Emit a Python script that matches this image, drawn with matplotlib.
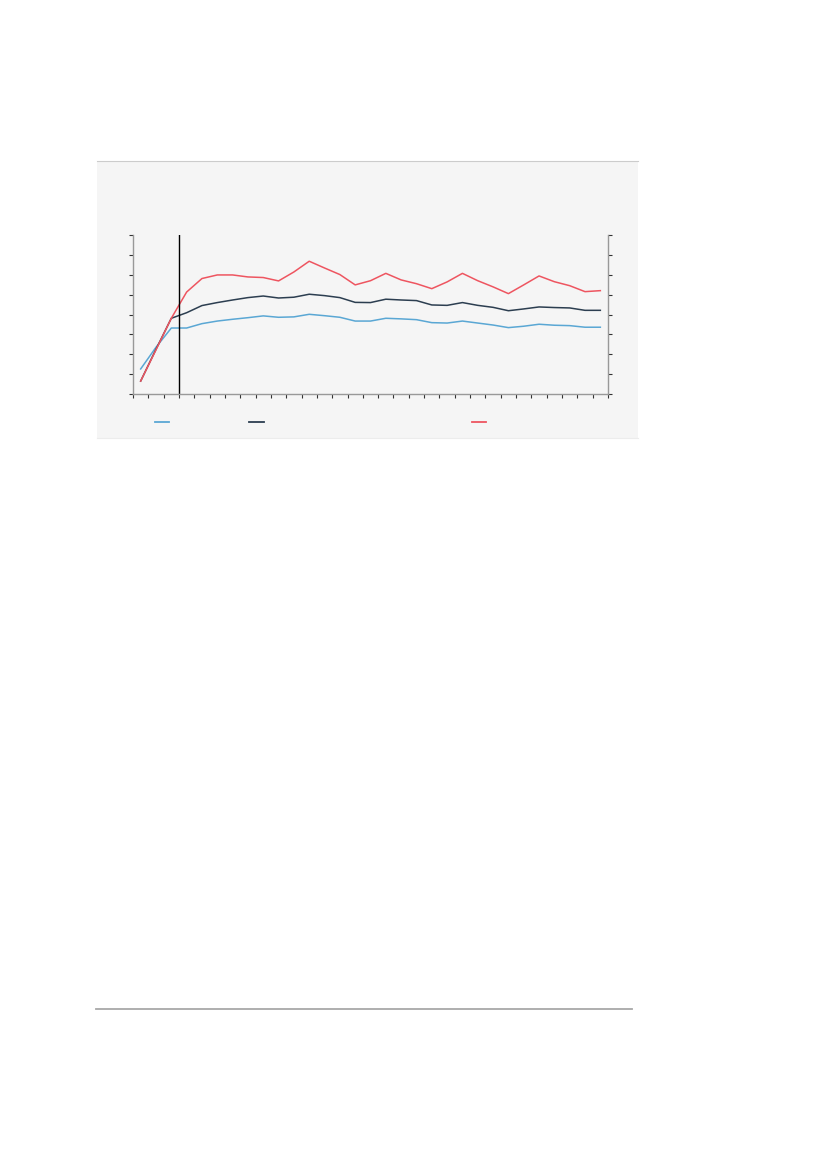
import matplotlib
matplotlib.use('Agg')
import matplotlib.pyplot as plt
from matplotlib.lines import Line2D

# 31 periods, values (axis units 0..8)
periods = list(range(31))
blue_vals = [1.26, 2.35, 3.32, 3.32, 3.54, 3.67, 3.76, 3.84, 3.93, 3.86, 3.88,
             4.01, 3.94, 3.86, 3.67, 3.67, 3.81, 3.78, 3.74, 3.59, 3.57, 3.67,
             3.57, 3.47, 3.34, 3.41, 3.51, 3.46, 3.44, 3.36, 3.36]
dark_vals = [0.65, 2.25, 3.81, 4.09, 4.45, 4.60, 4.73, 4.85, 4.93, 4.83, 4.87,
             5.02, 4.95, 4.85, 4.61, 4.60, 4.77, 4.73, 4.70, 4.48, 4.46, 4.60,
             4.46, 4.36, 4.19, 4.28, 4.38, 4.35, 4.33, 4.21, 4.21]
red_vals = [0.65, 2.22, 3.81, 5.13, 5.81, 5.99, 5.99, 5.89, 5.86, 5.69, 6.14,
            6.68, 6.34, 6.01, 5.49, 5.70, 6.07, 5.74, 5.55, 5.30, 5.64, 6.07,
            5.70, 5.39, 5.05, 5.49, 5.94, 5.65, 5.45, 5.15, 5.20]

c_blue = '#5aa7d4'
c_dark = '#2c3e50'
c_red = '#ee5560'
bg = '#f5f5f5'

fig = plt.figure(figsize=(8.27, 11.70), dpi=100)

# grey panel behind the chart
panel = fig.add_axes([97 / 827, 1 - 438 / 1170, 541 / 827, 277 / 1170])
panel.set_facecolor(bg)
panel.set_xticks([])
panel.set_yticks([])
for s in panel.spines.values():
    s.set_visible(False)
panel.spines['top'].set_visible(True)
panel.spines['top'].set_color('#cccccc')
panel.spines['bottom'].set_visible(True)
panel.spines['bottom'].set_color('#ececec')

ax = fig.add_axes([133 / 827, 1 - 394 / 1170, 475 / 827, 159 / 1170])
ax.set_facecolor('none')
ax.plot(periods, blue_vals, color=c_blue, lw=1.1)
ax.plot(periods, dark_vals, color=c_dark, lw=1.1)
ax.plot(periods, red_vals, color=c_red, lw=1.1)
ax.axvline(2.5, color='black', lw=1.0)

ax.set_xlim(-0.5, 30.5)
ax.set_ylim(0, 8)
ax.set_xticks([i - 0.5 for i in range(32)])
ax.set_yticks(range(9))
ax.tick_params(axis='both', length=3, width=0.8, color='#333333',
               labelleft=False, labelbottom=False)
ax.tick_params(axis='y', right=True, labelright=False)
ax.spines['top'].set_visible(False)
for side in ['left', 'right', 'bottom']:
    ax.spines[side].set_color('#999999')
    ax.spines[side].set_linewidth(1.0)

# legend keys (no labels visible in the picture)
ly = 1 - 421.5 / 1170
for x0, x1, c in [(155, 169, c_blue), (249, 264, c_dark), (472, 486, c_red)]:
    fig.add_artist(Line2D([x0 / 827, x1 / 827], [ly, ly], color=c, lw=1.3))

# footer rule
fy = 1 - 1009 / 1170
fig.add_artist(Line2D([96 / 827, 632 / 827], [fy, fy], color='#a8a8a8', lw=1.3))

fig.savefig('out.png', dpi=100)
